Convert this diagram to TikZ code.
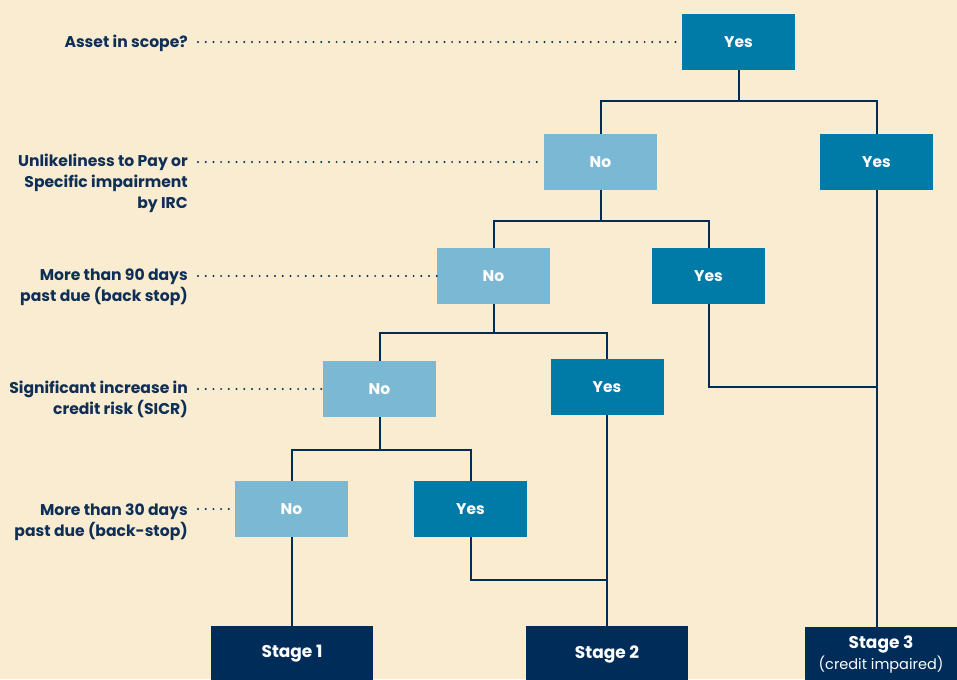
\documentclass[tikz,border=0pt]{standalone}
\usepackage{fontspec}
\setmainfont{Poppins}
\usetikzlibrary{calc}

\definecolor{cream}{RGB}{250,236,208}
\definecolor{lightblue}{RGB}{122,184,212}
\definecolor{midblue}{RGB}{0,122,166}
\definecolor{navy}{RGB}{0,44,90}
\definecolor{inktext}{RGB}{15,47,87}

\tikzset{
  box/.style={minimum width=113pt, minimum height=56pt, inner sep=0pt,
    text=white, font=\bfseries\fontsize{15.5}{18}\selectfont},
  nobox/.style={box, fill=lightblue},
  yesbox/.style={box, fill=midblue},
  stagebox/.style={box, fill=navy, minimum width=162pt, align=center,
    font=\fontsize{17}{21}\selectfont},
  link/.style={draw=navy, line width=2pt},
  lead/.style={draw=navy, line width=2.2pt, line cap=round,
    dash pattern=on 0pt off 7.7pt},
  question/.style={anchor=base east, align=right, text=inktext, inner sep=0pt,
    font=\bfseries\fontsize{15.6}{21}\selectfont}
}

\begin{document}
\begin{tikzpicture}[x=1pt, y=-1pt]
  \fill[cream] (0,0) rectangle (957,679);
  \useasboundingbox (0,0) rectangle (957,679);

  % questions on the left (placed by the baseline of the last line)
  \node[question] (q1) at (188,47.5) {Asset in scope?};
  \node[question] (q2) at (188,208.5) {Unlikeliness to Pay or\\Specific impairment\\by IRC};
  \node[question] (q3) at (188,301.5) {More than 90 days\\past due (back stop)};
  \node[question] (q4) at (188,414.5) {Significant increase in\\credit risk (SICR)};
  \node[question] (q5) at (188,536.5) {More than 30 days\\past due (back-stop)};

  % decision boxes
  \node[yesbox] (yes1) at (738.5,42) {Yes};
  \node[nobox]  (no2)  at (600.5,162) {No};
  \node[yesbox] (yes2) at (876.5,162) {Yes};
  \node[nobox]  (no3)  at (493.5,276) {No};
  \node[yesbox] (yes3) at (708.5,276) {Yes};
  \node[nobox]  (no4)  at (379.5,389) {No};
  \node[yesbox] (yes4) at (607,387) {Yes};
  \node[nobox]  (no5)  at (291.5,509) {No};
  \node[yesbox] (yes5) at (470.5,509) {Yes};

  % stages
  \node[stagebox] (stage1) at (292,654) {\bfseries Stage 1};
  \node[stagebox] (stage2) at (607,654) {\bfseries Stage 2};
  \node[stagebox, minimum width=152pt] (stage3) at (881,655)
    {\bfseries Stage 3\\{\fontsize{14.5}{18}\selectfont (credit impaired)}};

  % dotted leaders
  \draw[lead] ([xshift=10pt]q1.east |- yes1.west) -- (yes1.west);
  \draw[lead] ([xshift=10pt]q2.east |- no2.west) -- (no2.west);
  \draw[lead] ([xshift=10pt]q3.east |- no3.west) -- (no3.west);
  \draw[lead] ([xshift=10pt]q4.east |- no4.west) -- (no4.west);
  \draw[lead] ([xshift=10pt]q5.east |- no5.west) -- (no5.west);

  % tree
  \draw[link] (yes1.south) -- ++(0,31) -| (no2.north);
  \draw[link] (yes1.south) -- ++(0,31) -| (yes2.north);
  \draw[link] (no2.south) -- ++(0,31) -| (no3.north);
  \draw[link] (no2.south) -- ++(0,31) -| (yes3.north);
  \draw[link] (no3.south) -- ++(0,29) -| (no4.north);
  \draw[link] (no3.south) -- ++(0,29) -| (yes4.north);
  \draw[link] (no4.south) -- ++(0,33) -| (no5.north);
  \draw[link] (no4.south) -- ++(0,33) -| (yes5.north);

  \coordinate (j2) at (607,580);
  \coordinate (j3) at (876.5,387);
  \draw[link] (no5.south) -- (no5.south |- stage1.north);
  \draw[link] (yes4.south) -- (stage2.north);
  \draw[link] (yes5.south) |- (j2);
  \draw[link] (yes3.south) |- (j3);
  \draw[link] (yes2.south) -- (yes2.south |- stage3.north);
\end{tikzpicture}
\end{document}
